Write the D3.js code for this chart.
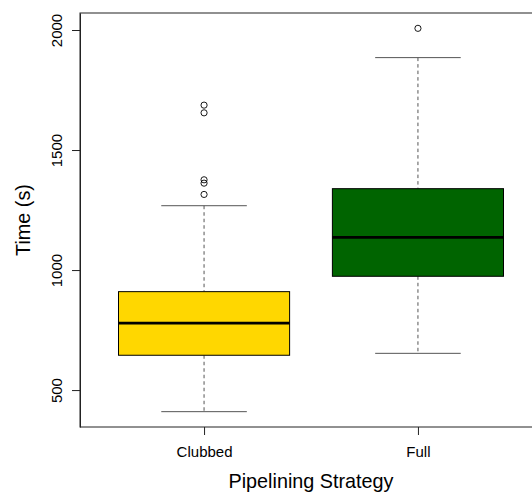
<!DOCTYPE html>
<html>
<head>
<meta charset="utf-8">
<script src="https://cdn.jsdelivr.net/npm/d3@7"></script>
<style>
  html, body { margin: 0; padding: 0; background: #fff; }
  svg { display: block; }
  text { font-family: "Liberation Sans", Arial, Helvetica, sans-serif; fill: #000; }
</style>
</head>
<body>
<svg id="chart" width="532" height="493"></svg>
<script>
// ---- data ----
const categories = ["Clubbed", "Full"];
const lowerWhisker = [410, 653];
const q1 = [645, 974];
const median = [779, 1136];
const q3 = [910, 1339];
const upperWhisker = [1268, 1885];
const outliers = [
  [1687, 1655, 1376, 1362, 1315],
  [2007]
];
const fillColors = ["#FFD700", "#006400"];
const yTicks = [500, 1000, 1500, 2000];
const xTitle = "Pipelining Strategy";
const yTitle = "Time (s)";

// ---- layout ----
const svg = d3.select("#chart");
const plot = { left: 80, right: 542, top: 13, bottom: 427 };

const allVals = lowerWhisker.concat(upperWhisker, outliers.flat());
const yMin = d3.min(allVals), yMax = d3.max(allVals);
const pad = (yMax - yMin) * 0.04;
const y = d3.scaleLinear().domain([yMin - pad, yMax + pad]).range([plot.bottom, plot.top]);

const n = categories.length;
const xPad = n * 0.04;
const x = d3.scaleLinear().domain([0.5 - xPad, n + 0.5 + xPad]).range([plot.left, plot.right]);
const boxHalf = 0.4;   // box width 0.8 units
const capHalf = 0.2;   // cap width 0.4 units

const g = svg.append("g");

categories.forEach((cat, i) => {
  const c = i + 1;
  const cx = x(c);
  const bl = x(c - boxHalf), br = x(c + boxHalf);
  const cl = x(c - capHalf), cr = x(c + capHalf);
  const wcol = "#555";

  // whiskers (dashed)
  g.append("line").attr("x1", cx).attr("x2", cx)
    .attr("y1", y(upperWhisker[i])).attr("y2", y(q3[i]))
    .attr("stroke", wcol).attr("stroke-width", 1).attr("stroke-dasharray", "3.5,3");
  g.append("line").attr("x1", cx).attr("x2", cx)
    .attr("y1", y(q1[i])).attr("y2", y(lowerWhisker[i]))
    .attr("stroke", wcol).attr("stroke-width", 1).attr("stroke-dasharray", "3.5,3");
  // caps
  g.append("line").attr("x1", cl).attr("x2", cr)
    .attr("y1", y(upperWhisker[i])).attr("y2", y(upperWhisker[i]))
    .attr("stroke", wcol).attr("stroke-width", 1);
  g.append("line").attr("x1", cl).attr("x2", cr)
    .attr("y1", y(lowerWhisker[i])).attr("y2", y(lowerWhisker[i]))
    .attr("stroke", wcol).attr("stroke-width", 1);
  // box
  g.append("rect").attr("x", bl).attr("y", y(q3[i]))
    .attr("width", br - bl).attr("height", y(q1[i]) - y(q3[i]))
    .attr("fill", fillColors[i]).attr("stroke", "#000").attr("stroke-width", 1);
  // median
  g.append("line").attr("x1", bl).attr("x2", br)
    .attr("y1", y(median[i])).attr("y2", y(median[i]))
    .attr("stroke", "#000").attr("stroke-width", 2.6);
  // outliers
  g.selectAll(null).data(outliers[i]).enter().append("circle")
    .attr("cx", cx).attr("cy", d => y(d)).attr("r", 3.1)
    .attr("fill", "none").attr("stroke", "#000").attr("stroke-width", 0.9);
});

// plot frame
svg.append("rect")
  .attr("x", plot.left).attr("y", plot.top)
  .attr("width", plot.right - plot.left).attr("height", plot.bottom - plot.top)
  .attr("fill", "none").attr("stroke", "#222").attr("stroke-width", 1);

// y axis
const yAxis = d3.axisLeft(y).tickValues(yTicks).tickSize(8).tickSizeOuter(0).tickFormat(d3.format("d"));
const ya = svg.append("g").attr("transform", `translate(${plot.left},0)`).call(yAxis);
ya.select(".domain").attr("stroke", "#222");
ya.selectAll(".tick line").attr("stroke", "#222");
ya.selectAll(".tick text")
  .attr("x", null).attr("dy", null)
  .attr("transform", "translate(-18,0) rotate(-90)")
  .attr("text-anchor", "middle")
  .style("font-size", "15px")
  .style("font-family", '"Liberation Sans", Arial, sans-serif');

// x axis
const xAxis = d3.axisBottom(x).tickValues(categories.map((d, i) => i + 1))
  .tickFormat((d) => categories[d - 1]).tickSize(8).tickSizeOuter(0);
const xa = svg.append("g").attr("transform", `translate(0,${plot.bottom})`).call(xAxis);
xa.select(".domain").remove();
xa.selectAll(".tick line").attr("stroke", "#222");
xa.selectAll(".tick text")
  .attr("y", 29.5).attr("dy", null)
  .style("font-size", "15px")
  .style("font-family", '"Liberation Sans", Arial, sans-serif');

// titles
svg.append("text")
  .attr("x", (plot.left + plot.right) / 2).attr("y", 488)
  .attr("text-anchor", "middle").style("font-size", "19.8px")
  .text(xTitle);
svg.append("text")
  .attr("transform", `translate(29.5,${(plot.top + plot.bottom) / 2}) rotate(-90)`)
  .attr("text-anchor", "middle").style("font-size", "19.8px")
  .text(yTitle);
</script>
</body>
</html>
